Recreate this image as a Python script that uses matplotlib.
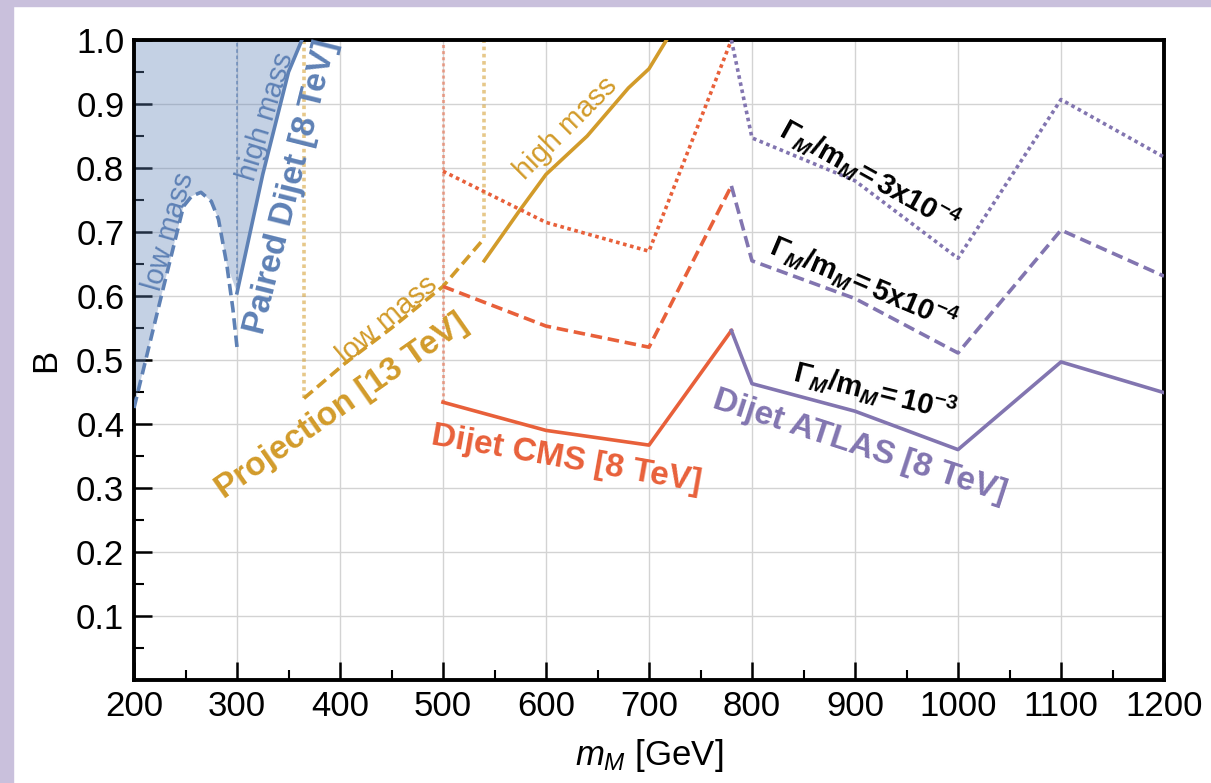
import matplotlib
matplotlib.use('Agg')
import matplotlib.pyplot as plt
from matplotlib.patches import Rectangle
from matplotlib.ticker import MultipleLocator

plt.rcParams['font.family'] = ['Liberation Sans', 'DejaVu Sans']
plt.rcParams['mathtext.fontset'] = 'custom'
plt.rcParams['mathtext.rm'] = 'Liberation Sans'
plt.rcParams['mathtext.it'] = 'Liberation Sans:italic'
plt.rcParams['mathtext.bf'] = 'Liberation Sans:bold'
plt.rcParams['mathtext.bfit'] = 'Liberation Sans:bold:italic'

# paired dijet [8 TeV]
paired_low_x = [200, 225, 248, 256, 265, 275, 282, 290, 296, 300]
paired_low_b = [0.425, 0.59, 0.74, 0.756, 0.762, 0.748, 0.72, 0.65, 0.58, 0.52]
paired_high_x = [300, 325, 350, 363]
paired_high_b = [0.605, 0.79, 0.95, 1.0]

# projection [13 TeV]
proj_low_x = [365, 405, 450, 500, 540]
proj_low_b = [0.44, 0.495, 0.55, 0.615, 0.69]
proj_high_x = [540, 575, 600, 640, 680, 700, 717]
proj_high_b = [0.655, 0.735, 0.79, 0.85, 0.925, 0.955, 1.0]

# dijet CMS [8 TeV], three widths
cms_x = [500, 600, 700, 780]
cms_1e3 = [0.434, 0.39, 0.367, 0.546]
cms_5e4 = [0.615, 0.553, 0.52, 0.772]
cms_3e4 = [0.795, 0.715, 0.67, 1.0]

# dijet ATLAS [8 TeV]
atlas_x = [780, 800, 900, 1000, 1100, 1200]
atlas_1e3 = [0.546, 0.463, 0.42, 0.36, 0.497, 0.449]
atlas_5e4 = [0.772, 0.655, 0.596, 0.511, 0.703, 0.631]
atlas_3e4 = [1.0, 0.847, 0.78, 0.659, 0.907, 0.817]

blue = '#5E81B5'
gold = '#D29B2A'
red = '#E8603A'
purple = '#8275B0'

DASH = (3.2, 1.6)
DOT = (1.0, 1.0)
LW = 2.6

fig = plt.figure(figsize=(12.11, 7.83), dpi=100)
fig.patches.append(Rectangle((0, 0), 13 / 1211, 1, transform=fig.transFigure,
                             color='#C9C0DC', zorder=-1))
fig.patches.append(Rectangle((0, 1 - 6 / 783), 1, 6 / 783, transform=fig.transFigure,
                             color='#C9C0DC', zorder=-1))
ax = fig.add_axes([134 / 1211, 103 / 783, 1030 / 1211, 640 / 783])

# shaded excluded region (paired dijet)
fx = paired_low_x[:-2] + paired_high_x + [paired_low_x[0]]
fy = paired_low_b[:-2] + paired_high_b + [1.0]
ax.fill(fx, fy, color=blue, alpha=0.36, lw=0, zorder=1)

ax.plot(paired_low_x, paired_low_b, color=blue, lw=LW, dashes=DASH, zorder=3)
ax.plot(paired_high_x, paired_high_b, color=blue, lw=LW, zorder=3)
ax.plot([paired_high_x[0]] * 2, [paired_high_b[0], 1.0], color=blue, alpha=0.7,
        lw=1.3, dashes=(2, 1.5), zorder=2)

ax.plot(proj_low_x, proj_low_b, color=gold, lw=LW, dashes=DASH, zorder=3)
ax.plot(proj_high_x, proj_high_b, color=gold, lw=LW, zorder=3)
ax.plot([proj_low_x[0]] * 2, [proj_low_b[0], 1.0], color=gold, alpha=0.55,
        lw=2.6, dashes=DOT, zorder=2)
ax.plot([proj_low_x[-1]] * 2, [proj_low_b[-1], 1.0], color=gold, alpha=0.55,
        lw=2.6, dashes=DOT, zorder=2)

ax.plot(cms_x, cms_1e3, color=red, lw=LW, zorder=3)
ax.plot(cms_x, cms_5e4, color=red, lw=LW, dashes=DASH, zorder=3)
ax.plot(cms_x, cms_3e4, color=red, lw=LW, dashes=DOT, zorder=3)
ax.plot([cms_x[0]] * 2, [cms_1e3[0], 1.0], color=red, alpha=0.5,
        lw=2.2, dashes=DOT, zorder=2)

ax.plot(atlas_x, atlas_1e3, color=purple, lw=LW, zorder=3)
ax.plot(atlas_x, atlas_5e4, color=purple, lw=LW, dashes=DASH, zorder=3)
ax.plot(atlas_x, atlas_3e4, color=purple, lw=LW, dashes=DOT, zorder=3)

# labels
ax.text(234, 0.70, 'low mass', color=blue, fontsize=21, rotation=74,
        ha='center', va='center', rotation_mode='anchor')
ax.text(328, 0.88, 'high mass', color=blue, fontsize=21, rotation=73,
        ha='center', va='center', rotation_mode='anchor')
ax.text(353, 0.77, 'Paired Dijet [8 TeV]', color=blue, fontsize=24, weight='bold',
        rotation=76, ha='center', va='center', rotation_mode='anchor')
ax.text(446, 0.562, 'low mass', color=gold, fontsize=21, rotation=40,
        ha='center', va='center', rotation_mode='anchor')
ax.text(619, 0.862, 'high mass', color=gold, fontsize=21, rotation=45,
        ha='center', va='center', rotation_mode='anchor')
ax.text(402, 0.428, 'Projection [13 TeV]', color=gold, fontsize=24, weight='bold',
        rotation=35, ha='center', va='center', rotation_mode='anchor')
ax.text(620, 0.345, 'Dijet CMS [8 TeV]', color=red, fontsize=24, weight='bold',
        rotation=-10, ha='center', va='center', rotation_mode='anchor')
ax.text(905, 0.364, 'Dijet ATLAS [8 TeV]', color=purple, fontsize=24, weight='bold',
        rotation=-18, ha='center', va='center', rotation_mode='anchor')

gam = r'$\mathbf{\Gamma}_{\mathbfit{M}}\mathbf{/m}_{\mathbfit{M}}\!\mathbf{=%s10}^{\mathbf{-%d}}$'
ax.text(914, 0.789, gam % ('3x', 4), fontsize=21, rotation=-29,
        ha='center', va='center', rotation_mode='anchor', zorder=4)
ax.text(909, 0.621, gam % ('5x', 4), fontsize=21, rotation=-23,
        ha='center', va='center', rotation_mode='anchor', zorder=4)
ax.text(920, 0.452, gam % ('', 3), fontsize=21, rotation=-14,
        ha='center', va='center', rotation_mode='anchor', zorder=4)

ax.set_xlim(200, 1200)
ax.set_ylim(0, 1.0)
ax.xaxis.set_major_locator(MultipleLocator(100))
ax.xaxis.set_minor_locator(MultipleLocator(50))
ax.yaxis.set_major_locator(MultipleLocator(0.1))
ax.yaxis.set_minor_locator(MultipleLocator(0.05))
ax.set_yticks([0.1 * i for i in range(1, 11)])
ax.set_yticklabels(['%.1f' % (0.1 * i) for i in range(1, 11)])
ax.tick_params(which='major', direction='in', length=13, width=1.8, labelsize=25, pad=7)
ax.tick_params(which='minor', direction='in', length=7, width=1.5)
ax.grid(True, which='major', color='#D3D3D3', lw=1.0)
ax.set_axisbelow(True)
for s in ax.spines.values():
    s.set_linewidth(2.8)
    s.set_color('black')
ax.set_xlabel(r'$m_M$ [GeV]', fontsize=25, labelpad=10)
ax.set_ylabel('B', fontsize=25, labelpad=10)

fig.savefig('out.png', dpi=100)
